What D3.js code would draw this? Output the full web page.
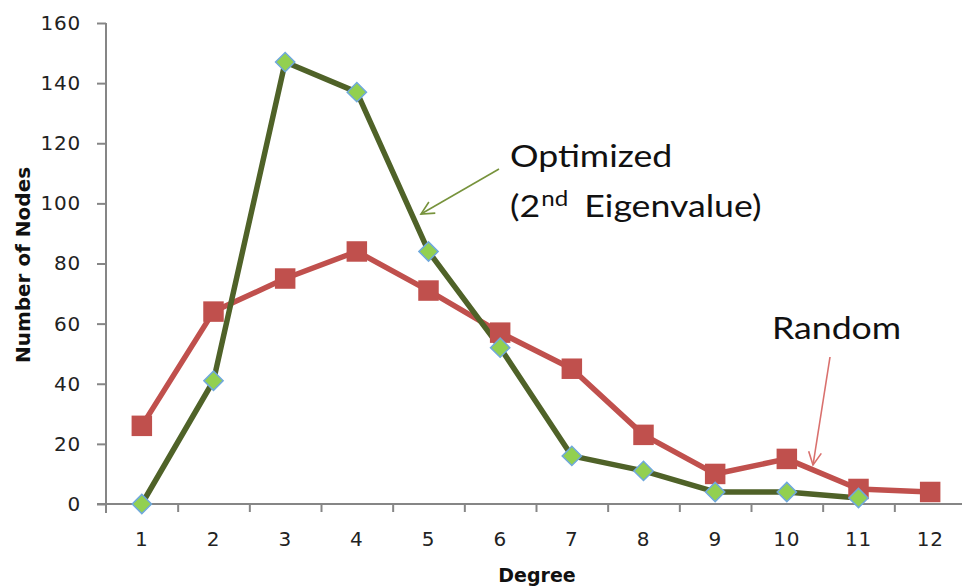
<!DOCTYPE html>
<html>
<head>
<meta charset="utf-8">
<script src="https://cdn.jsdelivr.net/npm/d3@7"></script>
<style>
  html, body { margin: 0; padding: 0; background: #fff; }
  svg { display: block; }
</style>
</head>
<body>
<svg id="chart" width="962" height="587"></svg>
<script>
// Degree distribution of nodes: optimized (2nd eigenvalue) vs random
const degrees = [1, 2, 3, 4, 5, 6, 7, 8, 9, 10, 11, 12];
const optimized = [0, 41, 147, 137, 84, 52, 16, 11, 4, 4, 2];
const random = [26, 64, 75, 84, 71, 57, 45, 23, 10, 15, 5, 4];
const yTicks = [0, 20, 40, 60, 80, 100, 120, 140, 160];

const svg = d3.select("#chart");
const plotLeft = 106, plotRight = 966, plotTop = 23, plotBottom = 504;

const x = d3.scaleBand().domain(degrees).range([plotLeft, plotRight]).padding(0);
const xEdge = d3.scaleLinear().domain([0, degrees.length]).range([plotLeft, plotRight]);
const y = d3.scaleLinear().domain([0, 160]).range([plotBottom, plotTop]);
const cx = d => x(d) + x.bandwidth() / 2;

const axisColor = "#868686";
const tickFont = "DejaVu Sans";

// Y axis
const yAxis = svg.append("g")
  .attr("transform", `translate(${plotLeft},0)`)
  .call(d3.axisLeft(y).tickValues(yTicks).tickSize(9).tickPadding(16));
yAxis.select(".domain").attr("stroke", axisColor).attr("stroke-width", 2)
  .attr("d", `M0,${plotTop}V${plotBottom + 9}`);
yAxis.selectAll(".tick line").attr("stroke", axisColor).attr("stroke-width", 2);
yAxis.selectAll(".tick text")
  .attr("font-family", tickFont).attr("font-size", 20).attr("letter-spacing", 0.8)
  .attr("fill", "#222");

// X axis: tick marks at category boundaries
const xTickAxis = svg.append("g")
  .attr("transform", `translate(0,${plotBottom})`)
  .call(d3.axisBottom(xEdge).tickValues(d3.range(1, degrees.length + 1)).tickSize(8).tickFormat(""));
xTickAxis.select(".domain").attr("stroke", axisColor).attr("stroke-width", 2)
  .attr("d", `M${plotLeft - 9},0H${plotRight}`);
xTickAxis.selectAll(".tick line").attr("stroke", axisColor).attr("stroke-width", 2);

// X axis: category labels
const xLabelAxis = svg.append("g")
  .attr("transform", `translate(0,${plotBottom})`)
  .call(d3.axisBottom(x).tickSize(0).tickPadding(28));
xLabelAxis.select(".domain").remove();
xLabelAxis.selectAll(".tick text")
  .attr("font-family", tickFont).attr("font-size", 20).attr("letter-spacing", 0.8)
  .attr("fill", "#222");

// Axis titles
svg.append("text")
  .attr("x", 537).attr("y", 582)
  .attr("text-anchor", "middle")
  .attr("font-family", "DejaVu Sans").attr("font-weight", "bold").attr("font-size", 19)
  .attr("fill", "#111")
  .text("Degree");

svg.append("text")
  .attr("transform", "translate(30,265) rotate(-90)")
  .attr("text-anchor", "middle")
  .attr("font-family", "DejaVu Sans").attr("font-weight", "bold").attr("font-size", 20)
  .attr("fill", "#111")
  .text("Number of Nodes");

// Series lines
const line = d3.line().x((d, i) => cx(degrees[i])).y(d => y(d));

svg.append("path")
  .datum(random)
  .attr("fill", "none").attr("stroke", "#C0504D").attr("stroke-width", 5.5)
  .attr("stroke-linejoin", "round")
  .attr("d", line);

svg.append("path")
  .datum(optimized)
  .attr("fill", "none").attr("stroke", "#4F6228").attr("stroke-width", 5.5)
  .attr("stroke-linejoin", "round")
  .attr("d", line);

// Markers
svg.append("g").selectAll("path")
  .data(random)
  .join("path")
  .attr("transform", (d, i) => `translate(${cx(degrees[i])},${y(d)})`)
  .attr("d", d3.symbol(d3.symbolSquare, 420))
  .attr("fill", "#C0504D");

svg.append("g").selectAll("path")
  .data(optimized)
  .join("path")
  .attr("transform", (d, i) => `translate(${cx(degrees[i])},${y(d)}) rotate(45)`)
  .attr("d", d3.symbol(d3.symbolSquare, 185))
  .attr("fill", "#92D050")
  .attr("stroke", "#6FA8DC").attr("stroke-width", 1.5);

// Annotations with arrows
const defs = svg.append("defs");
function arrowMarker(id, color) {
  defs.append("marker")
    .attr("id", id)
    .attr("viewBox", "0 0 20 20")
    .attr("refX", 18).attr("refY", 10)
    .attr("markerWidth", 16).attr("markerHeight", 16)
    .attr("markerUnits", "userSpaceOnUse")
    .attr("orient", "auto")
    .append("path")
    .attr("d", "M2,2L18,10L2,18")
    .attr("fill", "none").attr("stroke", color).attr("stroke-width", 2);
}
arrowMarker("arrowGreen", "#77933C");
arrowMarker("arrowRed", "#D9706D");

svg.append("line")
  .attr("x1", 499).attr("y1", 169).attr("x2", 421).attr("y2", 214)
  .attr("stroke", "#77933C").attr("stroke-width", 1.6)
  .attr("marker-end", "url(#arrowGreen)");

svg.append("line")
  .attr("x1", 830).attr("y1", 357).attr("x2", 813).attr("y2", 465)
  .attr("stroke", "#D9706D").attr("stroke-width", 1.6)
  .attr("marker-end", "url(#arrowRed)");

// Annotation labels, slightly widened
const annoFont = "Lato";
const annoSize = 31;
const widen = 1.15;

svg.append("text")
  .attr("transform", `translate(510,167) scale(${widen},1)`)
  .attr("font-family", annoFont).attr("font-size", annoSize).attr("fill", "#111")
  .text("Optimized");

const t2 = svg.append("text")
  .attr("transform", `translate(510,217) scale(${widen},1)`)
  .attr("font-family", annoFont).attr("font-size", annoSize).attr("fill", "#111");
t2.append("tspan").text("(2");
t2.append("tspan").attr("font-size", 21).attr("dx", 1).attr("dy", -11).text("nd");
t2.append("tspan").attr("dx", 6).attr("dy", 11).text(" Eigenvalue)");

svg.append("text")
  .attr("transform", `translate(772,339) scale(${widen},1)`)
  .attr("font-family", annoFont).attr("font-size", annoSize).attr("fill", "#111")
  .text("Random");
</script>
</body>
</html>
